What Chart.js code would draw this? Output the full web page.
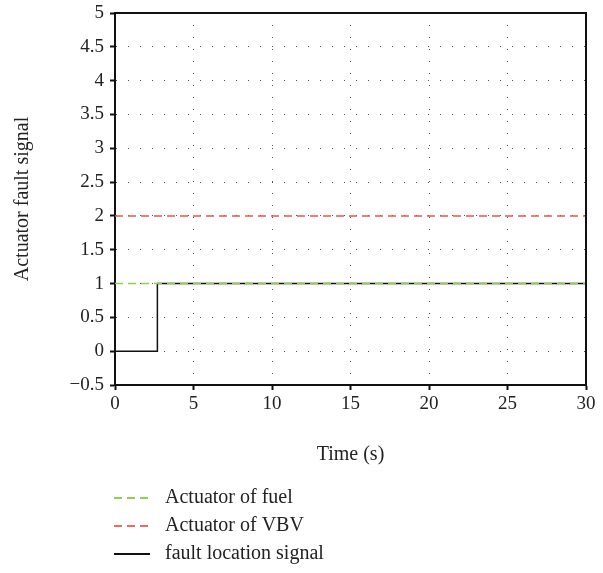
<!DOCTYPE html>
<html>
<head>
<meta charset="utf-8">
<script src="https://cdn.jsdelivr.net/npm/chart.js@4.4.0/dist/chart.umd.min.js"></script>
<style>
  html, body { margin: 0; padding: 0; background: #fff; }
  #wrap { width: 603px; height: 573px; }
</style>
</head>
<body>
<div id="wrap"><canvas id="faultChart" width="603" height="573"></canvas></div>
<script>
// data
const seriesNames = ['Actuator of fuel', 'Actuator of VBV', 'fault location signal'];
const fuelTime = [0, 30];
const fuelValue = [1, 1];
const vbvTime = [0, 30];
const vbvValue = [2, 2];
const faultTime = [0, 2.7, 2.7, 30];
const faultValue = [0, 0, 1, 1];
const xTicks = [0, 5, 10, 15, 20, 25, 30];
const yTicks = [-0.5, 0, 0.5, 1, 1.5, 2, 2.5, 3, 3.5, 4, 4.5, 5];

const FONT = '"Liberation Serif", "Times New Roman", serif';
const toPoints = (xs, ys) => xs.map((x, i) => ({ x: x, y: ys[i] }));

// frame on top and right side
const framePlugin = {
    id: 'frame',
    afterDraw(chart) {
        const { ctx, chartArea: { top, bottom, left, right } } = chart;
        ctx.save();
        ctx.strokeStyle = '#111';
        ctx.lineWidth = 2;
        ctx.setLineDash([]);
        ctx.beginPath();
        ctx.moveTo(left, top);
        ctx.lineTo(right, top);
        ctx.lineTo(right, bottom);
        ctx.stroke();
        ctx.restore();
    }
};

// legend stacked vertically under the axis title
const stackedLegend = {
    id: 'stackedLegend',
    afterDraw(chart) {
        const ctx = chart.ctx;
        const rowY = [498, 526, 554];
        ctx.save();
        ctx.font = '20px ' + FONT;
        ctx.textBaseline = 'middle';
        ctx.textAlign = 'left';
        chart.data.datasets.forEach((ds, i) => {
            const y = rowY[i];
            ctx.strokeStyle = ds.legendColor || ds.borderColor;
            ctx.lineWidth = 2;
            ctx.setLineDash(ds.borderDash || []);
            ctx.beginPath();
            ctx.moveTo(114, y);
            ctx.lineTo(150, y);
            ctx.stroke();
            ctx.setLineDash([]);
            ctx.fillStyle = '#222';
            ctx.fillText(ds.label, 165, y);
        });
        ctx.restore();
    }
};

const ctx = document.getElementById('faultChart').getContext('2d');
new Chart(ctx, {
    type: 'line',
    data: {
        datasets: [{
            label: seriesNames[0],
            data: toPoints(fuelTime, fuelValue),
            borderColor: '#8fd14f',
            borderWidth: 1.5,
            borderDash: [8, 5],
            pointRadius: 0
        }, {
            label: seriesNames[1],
            data: toPoints(vbvTime, vbvValue),
            borderColor: '#e8554a',
            legendColor: '#ec6a5e',
            borderWidth: 1.5,
            borderDash: [8, 5],
            pointRadius: 0
        }, {
            label: seriesNames[2],
            data: toPoints(faultTime, faultValue),
            borderColor: '#111',
            borderWidth: 1.5,
            pointRadius: 0
        }]
    },
    options: {
        responsive: false,
        animation: false,
        layout: { padding: { left: 0, top: 13, right: 17, bottom: 106 } },
        plugins: {
            legend: { display: false },
            tooltip: { enabled: false }
        },
        scales: {
            x: {
                type: 'linear',
                min: 0,
                max: 30,
                afterBuildTicks: (scale) => { scale.ticks = xTicks.map(v => ({ value: v })); },
                afterFit: (scale) => { scale.height = 82; scale.paddingLeft = 0; scale.paddingRight = 0; },
                ticks: { color: '#222', font: { family: FONT, size: 19 }, padding: 3, maxRotation: 0 },
                grid: { color: '#555', lineWidth: 1, tickLength: 5, tickColor: '#111', tickWidth: 2, tickBorderDash: [] },
                border: { color: '#111', width: 2, dash: [1, 11] },
                title: { display: true, text: 'Time (s)', color: '#222', font: { family: FONT, size: 20 }, padding: { top: 0, bottom: 0 } }
            },
            y: {
                min: -0.5,
                max: 5,
                afterBuildTicks: (scale) => { scale.ticks = yTicks.map(v => ({ value: v })); },
                afterFit: (scale) => { scale.width = 115; scale.paddingTop = 0; scale.paddingBottom = 0; },
                ticks: {
                    color: '#222',
                    font: { family: FONT, size: 19 },
                    padding: 6,
                    callback: (v) => String(v).replace('-', '\u2212')
                },
                grid: { color: '#555', lineWidth: 1, tickLength: 5, tickColor: '#111', tickWidth: 2, tickBorderDash: [] },
                border: { color: '#111', width: 2, dash: [1, 11] },
                title: { display: true, text: 'Actuator fault signal', color: '#222', font: { family: FONT, size: 20 }, padding: { top: 11, bottom: 0 } }
            }
        }
    },
    plugins: [framePlugin, stackedLegend]
});
</script>
</body>
</html>
